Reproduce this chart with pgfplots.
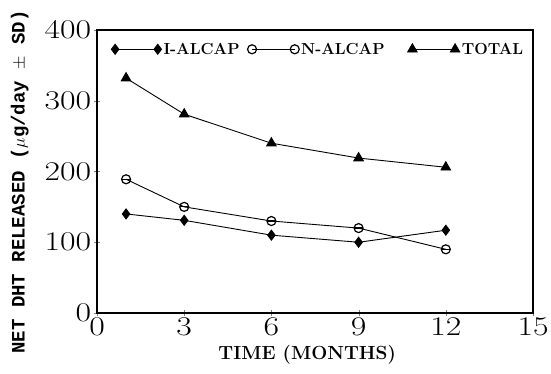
\documentclass[border=0pt]{standalone}
\usepackage{pgfplots}
\pgfplotsset{compat=1.18}
\usepackage{fontspec}
\newfontfamily\monob{Liberation Mono}
\newfontfamily\tickfont[FakeStretch=1.25]{Latin Modern Roman}
\begin{document}
\begin{tikzpicture}
\begin{axis}[
  scale only axis, width=436pt, height=283pt,
  xmin=0, xmax=15, ymin=0, ymax=400,
  xtick={0,3,6,9,12,15}, ytick={0,100,200,300,400},
  tick align=center, xtick pos=bottom, ytick pos=left,
  major tick length=6pt,
  /pgf/number format/assume math mode=true,
  tick label style={font=\tickfont\fontsize{27}{29}\selectfont},
  xticklabel style={yshift=2pt},
  yticklabel style={xshift=1pt},
  xlabel={\fontsize{19}{21}\selectfont\bfseries TIME (MONTHS)},
  ylabel={\fontsize{19}{21}\selectfont\monob\bfseries NET DHT RELEASED ($\mu$g/day $\pm$ SD)},
  ylabel style={at={(axis description cs:-0.177,0.463)}, anchor=center, rotate=0},
  xlabel style={at={(axis description cs:0.482,-0.148)}, anchor=center},
  axis line style={line width=1.1pt},
  line width=0.9pt,
  legend style={draw=none, fill=none, at={(0.025,0.97)}, anchor=north west,
    font=\fontsize{16}{18}\selectfont\bfseries,
    /tikz/column 2/.style={column sep=6pt},
    /tikz/column 4/.style={column sep=21pt}},
  legend columns=3,
  legend image code/.code={\draw[mark repeat=2,mark phase=1,#1] plot coordinates {(0cm,0cm) (0.75cm,0cm) (1.5cm,0cm)};},
]
\addplot[black, mark=diamond*, mark size=5pt] coordinates {(1,140) (3,131) (6,110) (9,100) (12,117)};
\addlegendentry{I-ALCAP}
\addplot[black, mark=o, mark size=4.5pt, mark options={line width=1.2pt}] coordinates {(1,189) (3,150) (6,130) (9,120) (12,90)};
\addlegendentry{N-ALCAP}
\addplot[black, mark=triangle*, mark size=5.5pt] coordinates {(1,332) (3,281) (6,240) (9,219) (12,206)};
\addlegendentry{TOTAL}
\addplot[black, only marks, mark=-, mark size=4pt, mark options={line width=1.2pt}, forget plot] coordinates {(1,189) (3,150) (6,130) (9,120) (12,90)};
\coordinate (bl) at (rel axis cs:0,0);
\coordinate (tr) at (rel axis cs:1,1);
\end{axis}
\pgfresetboundingbox
\path[use as bounding box] ([xshift=-97pt,yshift=-61pt]bl) rectangle ([xshift=18pt,yshift=30pt]tr);
\end{tikzpicture}
\end{document}
